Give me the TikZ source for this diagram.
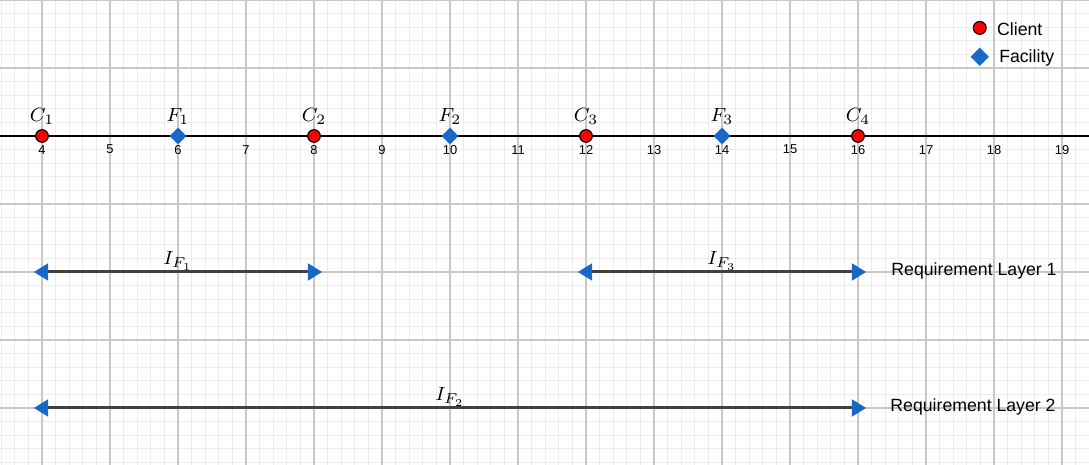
\RequirePackage{fix-cm}
\documentclass[tikz,border=0pt]{standalone}
\usepackage{fontspec}
\setsansfont{Liberation Sans}
\usetikzlibrary{arrows.meta,shapes.geometric}
\DeclareMathSizes{8}{8}{6}{4.4}
\definecolor{ptred}{RGB}{255,0,0}
\definecolor{ptblue}{RGB}{24,104,200}
\definecolor{minorgrid}{RGB}{236,236,236}
\definecolor{majorgrid}{RGB}{200,200,200}
\definecolor{arrline}{RGB}{64,64,64}
\tikzset{
  client/.style={circle, draw=black, line width=0.45pt, fill=ptred, minimum size=5.3pt, inner sep=0pt},
  lgdclient/.style={circle, draw=black, line width=0.45pt, fill=ptred, minimum size=5.4pt, inner sep=0pt},
  facility/.style={diamond, fill=ptblue, minimum width=7.2pt, minimum height=7.2pt, inner sep=0pt},
  lgdfacility/.style={diamond, fill=ptblue, minimum width=7.8pt, minimum height=7.8pt, inner sep=0pt},
  ticklbl/.style={font=\sffamily\fontsize{5.4}{6}\selectfont, inner sep=0pt},
  mathlbl/.style={font=\fontsize{8}{10}\selectfont, inner sep=0pt, anchor=base},
  sidetxt/.style={font=\sffamily\fontsize{7.4}{9}\selectfont, inner sep=0pt, anchor=west},
  interval/.style={draw=arrline, line width=1.25pt,
    {Triangle[length=6pt,width=7pt,color=ptblue]}-{Triangle[length=6pt,width=7pt,color=ptblue]}}
}
\begin{document}
\begin{tikzpicture}[x=1cm,y=1cm]
\useasboundingbox (3.382,-4.838) rectangle (19.397,2);
\begin{scope}
\clip (3.382,-4.838) rectangle (19.397,2);
\fill[white] (3.382,-4.838) rectangle (19.397,2);
\draw[minorgrid, line width=0.4pt, step=0.2] (3,-5) grid (20,2.2);
\draw[majorgrid, line width=0.6pt, step=1] (3,-5) grid (20,2.2);
\end{scope}
% axis
\coordinate (axL) at (3.382,0);
\coordinate (axR) at (19.397,0);
\draw[black, line width=0.6pt] (axL) -- (axR);
\foreach \v in {4,...,19} {
  \node[ticklbl] (t\v) at (\v,-0.2) {\v};
}
% points
\node[client] (C1) at (4,0) {};
\node[facility] (F1) at (6,0) {};
\node[client] (C2) at (8,0) {};
\node[facility] (F2) at (10,0) {};
\node[client] (C3) at (12,0) {};
\node[facility] (F3) at (14,0) {};
\node[client] (C4) at (16,0) {};
\node[mathlbl] (lC1) at (4,0.21) {$C_1$};
\node[mathlbl] (lF1) at (6,0.21) {$F_1$};
\node[mathlbl] (lC2) at (8,0.21) {$C_2$};
\node[mathlbl] (lF2) at (10,0.21) {$F_2$};
\node[mathlbl] (lC3) at (12,0.21) {$C_3$};
\node[mathlbl] (lF3) at (14,0.21) {$F_3$};
\node[mathlbl] (lC4) at (16,0.21) {$C_4$};
% legend
\node[lgdclient] (lgC) at (17.79,1.59) {};
\node[lgdfacility] (lgF) at (17.79,1.165) {};
\node[sidetxt] (lgCt) at (18.04,1.57) {Client};
\node[sidetxt] (lgFt) at (18.07,1.145) {Facility};
% layer 1
\coordinate (a1) at (3.88,-2);
\coordinate (b1) at (8.12,-2);
\coordinate (a3) at (11.88,-2);
\coordinate (b3) at (16.12,-2);
\draw[interval] (a1) -- (b1);
\draw[interval] (a3) -- (b3);
\node[mathlbl] (IF1) at (6,-1.89) {$I_{F_1}$};
\node[mathlbl] (IF3) at (14,-1.89) {$I_{F_3}$};
\node[sidetxt] (rl1) at (16.485,-1.98) {Requirement Layer 1};
% layer 2
\coordinate (a2) at (3.88,-4);
\coordinate (b2) at (16.12,-4);
\draw[interval] (a2) -- (b2);
\node[mathlbl] (IF2) at (10,-3.89) {$I_{F_2}$};
\node[sidetxt] (rl2) at (16.47,-3.98) {Requirement Layer 2};
\end{tikzpicture}
\end{document}
